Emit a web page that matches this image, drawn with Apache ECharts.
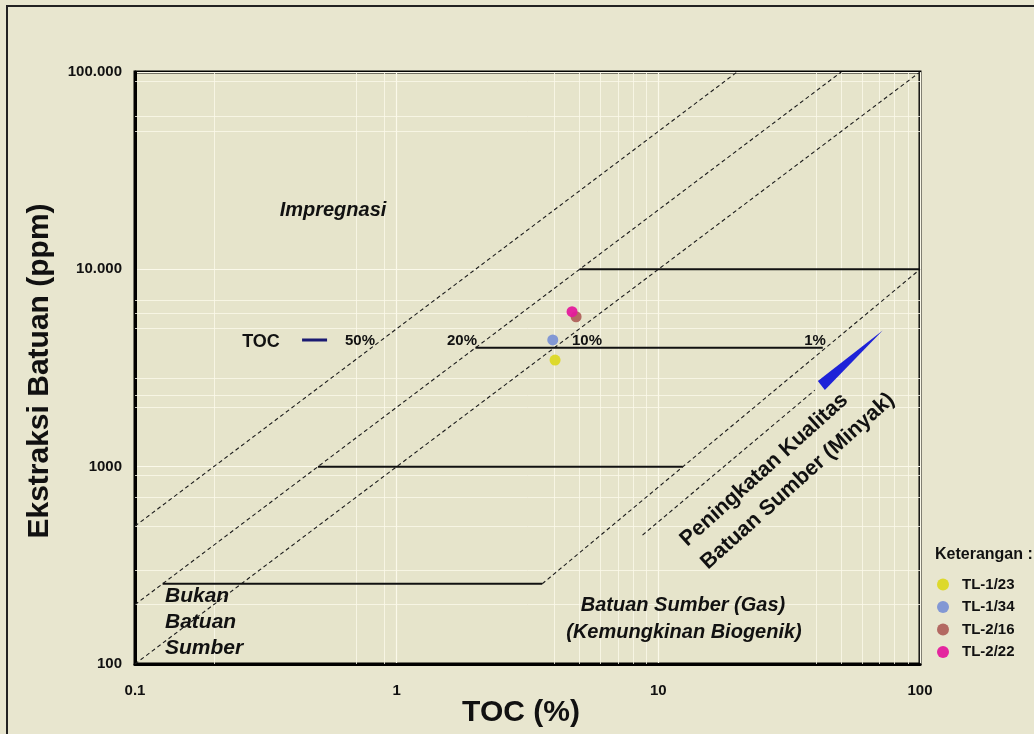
<!DOCTYPE html>
<html>
<head>
<meta charset="utf-8">
<script src="https://cdn.jsdelivr.net/npm/echarts@6/dist/echarts.min.js"></script>
<style>
  html, body { margin: 0; padding: 0; background: #ffffff; }
  #chart { width: 1034px; height: 734px; }
</style>
</head>
<body>
<div id="chart"></div>
<script>
// ---- Axis ticks ----
const xTickValues = [0.1, 1, 10, 100];
const xTickLabels = ['0.1', '1', '10', '100'];
const yTickValues = [100, 1000, 10000, 100000];
const yTickLabels = ['100', '1000', '10.000', '100.000'];

// ---- Samples: [TOC (%), rock extract (ppm)] ----
const sampleNames = ['TL-1/23', 'TL-1/34', 'TL-2/16', 'TL-2/22'];
const sampleColors = ['#dcd823', '#7c93d4', '#b0625c', '#e41b9c'];
const tl1_23 = [[4.03, 3470]];
const tl1_34 = [[3.95, 4390]];
const tl2_16 = [[4.85, 5750]];
const tl2_22 = [[4.68, 6100]];

// ---- Extract / TOC ratio lines (50 %, 20 %, 10 %) ----
const ratio50 = [[0.1, 500], [20, 100000]];
const ratio20 = [[0.1, 200], [50, 100000]];
const ratio10 = [[0.1, 100], [100, 100000]];
// lower-right boundary and quality guide
const boundaryLine = [[3.6, 255], [100, 10000]];
const qualityGuide = [[8.7, 450], [39.6, 2440]];

// ---- Step levels ----
const level10000 = [[5, 10000], [100, 10000]];
const level4000 = [[2, 4000], [42.5, 4000]];
const level1000 = [[0.5, 1000], [12.4, 1000]];
const level250 = [[0.1275, 255], [3.6, 255]];

// TOC key stroke next to the "TOC" label
const tocKey = [[0.435, 4390], [0.542, 4390]];

// Quality arrow wedge: tip, then the two base corners
const qualityWedge = [[72, 4900], [40.7, 2716], [43.3, 2443]];

// light grid lines between the decades
const gridX = [0.2, 0.7, 0.9, 4, 5, 6, 7, 8, 9, 40, 50, 60, 70, 80, 90];
const gridY = [200, 300, 500, 700, 900, 2000, 2300, 2800, 5000, 6000, 7000, 50000, 60000, 90000];

const FONT = '"Liberation Sans", Arial, sans-serif';

const chart = echarts.init(document.getElementById('chart'), null, { renderer: 'canvas' });

function solid(data) {
  return {
    type: 'line', data: data, symbol: 'none', silent: true, z: 4,
    lineStyle: { color: '#111', width: 2, type: 'solid' }
  };
}
function dashed(data) {
  return {
    type: 'line', data: data, symbol: 'none', silent: true, z: 4,
    lineStyle: { color: '#1c1c1c', width: 1.1, type: [4, 3] }
  };
}
function sample(i, data) {
  return {
    name: sampleNames[i], type: 'scatter', data: data, symbol: 'circle', symbolSize: 11, z: 6,
    itemStyle: { color: sampleColors[i], opacity: 0.95 }
  };
}

const boldText = (text, x, y, size, extra) => ({
  type: 'text', x: x, y: y, z: 50,
  style: Object.assign({
    text: text, fill: '#111', font: 'bold ' + size + 'px ' + FONT,
    align: 'center', verticalAlign: 'middle'
  }, extra || {})
});
const italicText = (text, x, y, size, align) => ({
  type: 'text', x: x, y: y, z: 50,
  style: {
    text: text, fill: '#111', font: 'italic bold ' + size + 'px ' + FONT,
    align: align || 'center', verticalAlign: 'middle'
  }
});

const option = {
  backgroundColor: '#e8e6cf',
  animation: false,
  grid: {
    left: 135, top: 72, right: 114, bottom: 70,
    show: true, backgroundColor: '#e6e4cb', borderColor: '#000', borderWidth: 3
  },
  xAxis: {
    type: 'log', logBase: 10, min: 0.1, max: 100,
    axisLine: { show: true, onZero: false, lineStyle: { color: '#000', width: 3 } },
    axisTick: { show: false },
    axisLabel: {
      margin: 19, color: '#111', fontFamily: FONT, fontWeight: 'bold', fontSize: 15,
      formatter: v => {
        const i = xTickValues.findIndex(t => Math.abs(t - v) / t < 1e-6);
        return i >= 0 ? xTickLabels[i] : '';
      }
    },
    splitLine: { show: true, lineStyle: { color: '#fbf9ea', width: 1.2 } }
  },
  yAxis: {
    type: 'log', logBase: 10, min: 100, max: 100000,
    axisLine: { show: true, onZero: false, lineStyle: { color: '#000', width: 3 } },
    axisTick: { show: false },
    axisLabel: {
      margin: 13, color: '#111', fontFamily: FONT, fontWeight: 'bold', fontSize: 15,
      formatter: v => {
        const i = yTickValues.findIndex(t => Math.abs(t - v) / t < 1e-6);
        return i >= 0 ? yTickLabels[i] : '';
      }
    },
    splitLine: { show: true, lineStyle: { color: '#fbf9ea', width: 1.2 } }
  },
  legend: {
    data: sampleNames,
    orient: 'vertical', left: 932, top: 572,
    icon: 'circle', itemWidth: 12, itemHeight: 12, itemGap: 7.5,
    textStyle: { fontFamily: FONT, fontWeight: 'bold', fontSize: 15, color: '#111', padding: [0, 0, 0, 8] }
  },
  series: [
    {
      type: 'line', data: [], silent: true, z: 1,
      markLine: {
        silent: true, symbol: 'none', animation: false, z: 1,
        label: { show: false },
        lineStyle: { color: '#fbf9ea', width: 1, type: 'solid', opacity: 0.8 },
        data: gridX.map(v => ({ xAxis: v })).concat(gridY.map(v => ({ yAxis: v })))
      }
    },
    dashed(ratio50),
    dashed(ratio20),
    dashed(ratio10),
    dashed(boundaryLine),
    dashed(qualityGuide),
    solid(level10000),
    solid(level4000),
    solid(level1000),
    solid(level250),
    {
      type: 'line', data: tocKey, symbol: 'none', silent: true, z: 4,
      lineStyle: { color: '#1a1a72', width: 3 }
    },
    {
      type: 'custom', silent: true, z: 5,
      data: [qualityWedge[0]],
      renderItem: (params, api) => ({
        type: 'polygon',
        shape: { points: qualityWedge.map(p => api.coord(p)) },
        style: { fill: '#1e22d8' }
      })
    },
    sample(0, tl1_23),
    sample(1, tl1_34),
    sample(2, tl2_16),
    sample(3, tl2_22)
  ],
  graphic: [
    // outer frame
    { type: 'rect', shape: { x: 7, y: 6, width: 1040, height: 740 }, style: { fill: null, stroke: '#222', lineWidth: 2 }, z: 0 },
    // axis titles
    boldText('TOC (%)', 521, 713, 30),
    { type: 'text', x: 40, y: 371, rotation: Math.PI / 2, z: 50,
      style: { text: 'Ekstraksi Batuan (ppm)', fill: '#111', font: 'bold 30px ' + FONT, align: 'center', verticalAlign: 'middle' } },
    // regions
    italicText('Impregnasi', 333, 210, 20),
    italicText('Bukan', 165, 596, 21, 'left'),
    italicText('Batuan', 165, 622, 21, 'left'),
    italicText('Sumber', 165, 648, 21, 'left'),
    italicText('Batuan Sumber (Gas)', 683, 605, 20),
    italicText('(Kemungkinan Biogenik)', 684, 632, 20),
    { type: 'text', x: 673, y: 531, rotation: 42 * Math.PI / 180, z: 50,
      style: { text: 'Peningkatan Kualitas\nBatuan Sumber (Minyak)', fill: '#111', font: 'bold 21.5px ' + FONT,
               align: 'left', verticalAlign: 'top', lineHeight: 31 } },
    // TOC scale labels
    boldText('TOC', 261, 342, 18),
    boldText('50%', 360, 341, 15),
    boldText('20%', 462, 341, 15),
    boldText('10%', 587, 341, 15),
    boldText('1%', 815, 341, 15),
    // legend caption
    boldText('Keterangan :', 935, 555, 16, { align: 'left' })
  ]
};

chart.setOption(option);
</script>
</body>
</html>
